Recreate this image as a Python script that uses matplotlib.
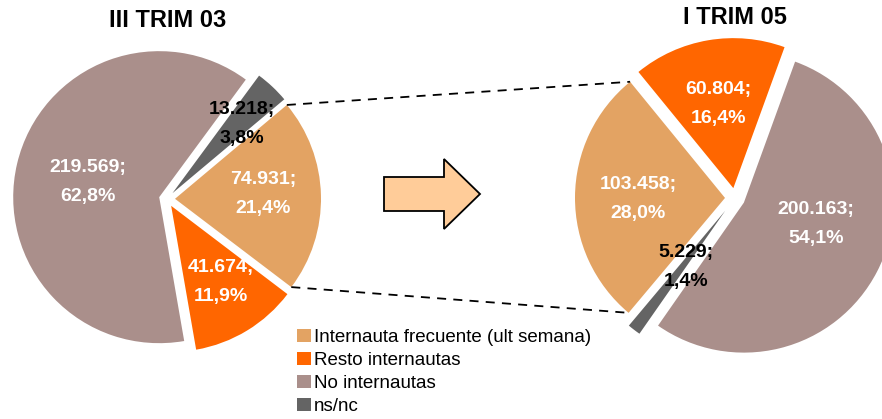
import matplotlib
matplotlib.use('Agg')
import matplotlib.pyplot as plt
import matplotlib.patches as mpatches
import numpy as np

plt.rcParams['font.family'] = ['Liberation Sans', 'DejaVu Sans']

# data
categories = ['Internauta frecuente (ult semana)', 'Resto internautas',
              'No internautas', 'ns/nc']
colors = ['#E3A363', '#FF6600', '#AA8F8B', '#646464']
label_colors = ['white', 'white', 'white', 'black']
left_title = 'III TRIM 03'
right_title = 'I TRIM 05'
left_values = [74931, 41674, 219569, 13218]
right_values = [103458, 60804, 200163, 5229]


def fmt_label(v, total):
    num = f'{v:,}'.replace(',', '.')
    pct = f'{100.0 * v / total:.1f}'.replace('.', ',')
    return num + ';\n' + pct + '%'


def draw_pie(ax, values, center, radius, start, explode, label_pos):
    total = sum(values)
    # explode is in data units (pixels here)
    wedges, texts, autos = ax.pie(values, colors=colors, startangle=start,
                                  counterclock=False, center=center,
                                  radius=radius, explode=explode,
                                  autopct='%1.1f', pctdistance=0.6,
                                  wedgeprops=dict(linewidth=0))
    for t, v, c, p in zip(autos, values, label_colors, label_pos):
        t.set_text(fmt_label(v, total))
        t.set_color(c)
        t.set_fontsize(14)
        t.set_fontweight('bold')
        t.set_linespacing(1.95)
        t.set_position(p)
    return wedges


fig = plt.figure(figsize=(8.82, 4.19), dpi=100)
ax = fig.add_axes([0, 0, 1, 1])

lw = draw_pie(ax, left_values, (167, 220), 146, 40, [8, 8, 8, 8],
              [(263, 225), (221, 137), (88, 237), (242, 295)])
rw = draw_pie(ax, right_values, (735, 221), 150, 230, [10, 10, 10, 16],
              [(638, 220), (718, 315), (816, 195), (686, 152)])

ax.set_xlim(0, 882)
ax.set_ylim(0, 419)
ax.set_aspect('equal')
ax.axis('off')

# dashed connectors between the two "Internauta frecuente" slices
lt, rt = lw[0], rw[0]


def edge_pt(w, ang):
    return (w.center[0] + w.r * np.cos(np.radians(ang)),
            w.center[1] + w.r * np.sin(np.radians(ang)))


p1 = edge_pt(lt, lt.theta2)
p2 = edge_pt(rt, rt.theta1)
p3 = edge_pt(lt, lt.theta1)
p4 = edge_pt(rt, rt.theta2)
ax.plot([p1[0], p2[0]], [p1[1], p2[1]], color='black', lw=1.3, ls=(0, (5, 4)))
ax.plot([p3[0], p4[0]], [p3[1], p4[1]], color='black', lw=1.3, ls=(0, (5, 4)))

# arrow
ax.add_patch(mpatches.FancyArrow(384, 225, 96, 0, width=34, head_width=70,
                                 head_length=36, length_includes_head=True,
                                 facecolor='#FFCC99', edgecolor='black',
                                 linewidth=1.3))

ax.text(168, 398, left_title, ha='center', va='center', fontsize=17,
        fontweight='bold')
ax.text(735, 401, right_title, ha='center', va='center', fontsize=17,
        fontweight='bold')

ax.legend(lw, categories, loc='upper left',
          bbox_to_anchor=(297 / 882, 1 - 329 / 419), frameon=False,
          fontsize=13.5, handlelength=0.72, handleheight=0.72,
          handletextpad=0.2, labelspacing=0.3, borderpad=0,
          borderaxespad=0)

plt.savefig('out.png', dpi=100)
